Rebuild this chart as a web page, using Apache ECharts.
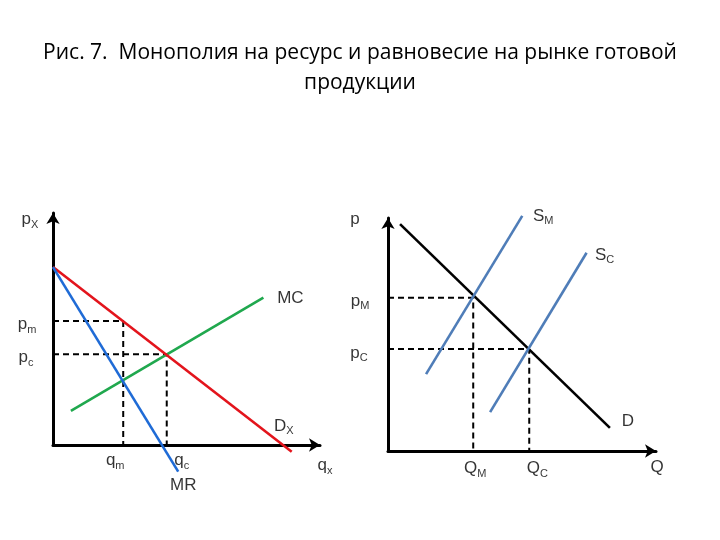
<!DOCTYPE html>
<html><head><meta charset="utf-8">
<script src="https://cdn.jsdelivr.net/npm/echarts@6/dist/echarts.min.js"></script>
<style>html,body{margin:0;background:#fff}#c{width:720px;height:540px}</style>
</head><body><div id="c"></div>
<script>
// ---- Left panel: resource (factor) market ----
const demandX = [[0, 7.67], [8.94, -0.29]];   // D_X
const mrX     = [[0, 7.67], [4.69, -1.15]];   // MR
const mcX     = [[0.67, 1.47], [7.88, 6.35]]; // MC
const pm = 5.34, pc = 3.91, qm = 2.63, qc = 4.26;
// ---- Right panel: final goods market ----
const demandQ = [[0.45, 9.74], [8.28, 0.99]];  // D
const supplyM = [[1.42, 3.30], [5.01, 10.09]]; // S_M
const supplyC = [[3.81, 1.67], [7.41, 8.51]];  // S_C
const pM = 6.58, pC = 4.38, QM = 3.18, QC = 5.27;
const axisMin = 0, axisMax = 10;

const FONT = '"Liberation Sans", Arial, sans-serif';
const rich = {
  m: { fontSize: 17, fontFamily: FONT, color: '#000', lineHeight: 20, verticalAlign: 'bottom' },
  s: { fontSize: 11, fontFamily: FONT, color: '#000', lineHeight: 20, verticalAlign: 'bottom', padding: [0, 0, -2, 0] }
};
function lbl(main, sub) { return '{m|' + main + '}' + (sub ? '{s|' + sub + '}' : ''); }
function tag(x, y, text, dx, dy) {
  return { value: [x, y], name: text, label: { offset: [dx, dy] } };
}
function last(arr) { return arr[arr.length - 1]; }

const axisLine = { show: true, symbol: ['none', 'arrow'], symbolSize: [10, 11], lineStyle: { color: '#000', width: 3 } };
function mkAxis(gi) {
  return { type: 'value', gridIndex: gi, min: axisMin, max: axisMax, axisLine: axisLine,
    axisTick: { show: false }, axisLabel: { show: false }, splitLine: { show: false } };
}
function line(gi, data, color, width, extra) {
  return Object.assign({ type: 'line', xAxisIndex: gi, yAxisIndex: gi, data: data, symbol: 'none', clip: false,
    silent: true, animation: false, lineStyle: { color: color, width: width } }, extra || {});
}
function dashed(gi, pts) {
  return line(gi, pts, '#000', 2, { lineStyle: { color: '#000', width: 2, type: [6, 4] }, z: 1 });
}
function tags(gi, items) {
  return { type: 'scatter', xAxisIndex: gi, yAxisIndex: gi, symbolSize: 0, clip: false, silent: true, animation: false,
    data: items, z: 5,
    label: { show: true, position: 'inside', align: 'center', verticalAlign: 'middle', formatter: p => p.name, rich: rich } };
}

const option = {
  backgroundColor: '#fff',
  animation: false,
  title: {
    text: 'Рис. 7.  Монополия на ресурс и равновесие на рынке готовой\nпродукции',
    left: 'center', top: 33,
    textStyle: { fontFamily: '"Open Sans", sans-serif', fontSize: 21, fontWeight: 'normal', color: '#000', lineHeight: 30, align: 'center' }
  },
  grid: [
    { left: 53, top: 213, width: 267, height: 232 },
    { left: 388, top: 218, width: 268, height: 233 }
  ],
  xAxis: [mkAxis(0), mkAxis(1)],
  yAxis: [mkAxis(0), mkAxis(1)],
  series: [
    dashed(0, [[0, pm], [qm, pm], [qm, 0]]),
    dashed(0, [[0, pc], [qc, pc], [qc, 0]]),
    line(0, mcX, '#20A84E', 2.6),
    line(0, demandX, '#E3141C', 2.6),
    line(0, mrX, '#1F6BD6', 2.6),
    tags(0, [
      tag(0, axisMax, lbl('p', 'X'), -23, 5),
      tag(0, pm, lbl('p', 'm'), -26, 2),
      tag(0, pc, lbl('p', 'c'), -27, 2),
      tag(qm, 0, lbl('q', 'm'), -8, 14),
      tag(qc, 0, lbl('q', 'c'), 15, 14),
      tag(last(mrX)[0], last(mrX)[1], lbl('MR'), 5, 12),
      tag(last(mcX)[0], last(mcX)[1], lbl('MC'), 27, -1),
      tag(last(demandX)[0], last(demandX)[1], lbl('D', 'X'), -8, -27),
      tag(axisMax, 0, lbl('q', 'x'), 5, 19)
    ]),
    dashed(1, [[0, pM], [QM, pM], [QM, 0]]),
    dashed(1, [[0, pC], [QC, pC], [QC, 0]]),
    line(1, demandQ, '#000', 2.6),
    line(1, supplyM, '#4F7DB8', 2.6),
    line(1, supplyC, '#4F7DB8', 2.6),
    tags(1, [
      tag(0, axisMax, lbl('p'), -33, 0),
      tag(last(supplyM)[0], last(supplyM)[1], lbl('S', 'M'), 21, -1),
      tag(last(supplyC)[0], last(supplyC)[1], lbl('S', 'C'), 18, 1),
      tag(0, pM, lbl('p', 'M'), -28, 2),
      tag(0, pC, lbl('p', 'C'), -29, 3),
      tag(last(demandQ)[0], last(demandQ)[1], lbl('D'), 18, -8),
      tag(QM, 0, lbl('Q', 'M'), 2, 16),
      tag(QC, 0, lbl('Q', 'C'), 8, 16),
      tag(axisMax, 0, lbl('Q'), 1, 15)
    ])
  ]
};
const chart = echarts.init(document.getElementById('c'), null, { renderer: 'canvas' });
chart.setOption(option);
</script></body></html>
